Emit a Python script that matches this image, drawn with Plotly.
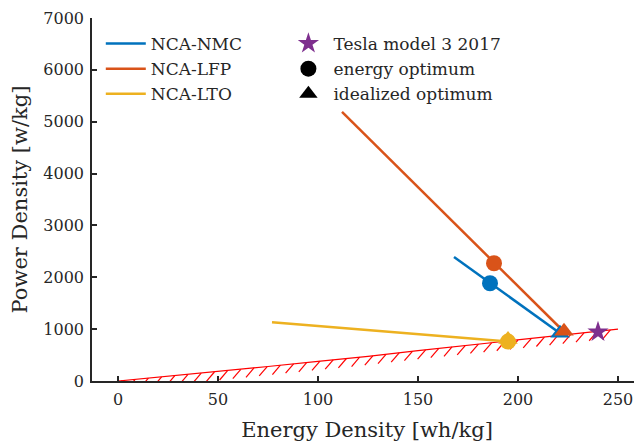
import plotly.graph_objects as go
import numpy as np

# ---- data ----
series_names = ["NCA-NMC", "NCA-LFP", "NCA-LTO"]
series_colors = ["#0072BD", "#D95319", "#EDB120"]
line_x = [[168, 221], [112, 223], [77, 195]]
line_y = [[2390, 920], [5190, 950], [1135, 760]]
energy_opt_x = [186, 188, 195]
energy_opt_y = [1885, 2270, 760]
ideal_opt_x = [221, 223, 195]
ideal_opt_y = [920, 960, 800]
tesla_x = [240]
tesla_y = [945]
limit_x = [0, 25, 50, 75, 100, 125, 150, 175, 200, 225, 250]
limit_y = [0, 90, 180, 280, 380, 475, 585, 690, 790, 895, 1000]

FONT = "DejaVu Serif"
TXT = "#262626"
fig = go.Figure()

# limit curve with hatching
fig.add_trace(go.Scatter(x=limit_x, y=limit_y, mode="lines",
                         line=dict(color="red", width=1.2), showlegend=False, hoverinfo="skip"))
hx = np.arange(2, 250, 6.6)
hy = np.interp(hx, limit_x, limit_y)
seg_x, seg_y = [], []
for a, b in zip(hx, hy):
    seg_x += [a, a - 4, None]
    seg_y += [b, b - 180, None]
fig.add_trace(go.Scatter(x=seg_x, y=seg_y, mode="lines",
                         line=dict(color="red", width=1.2), showlegend=False, hoverinfo="skip"))

for i, name in enumerate(series_names):
    fig.add_trace(go.Scatter(x=line_x[i], y=line_y[i], mode="lines", name=name,
                             line=dict(color=series_colors[i], width=2.5), legend="legend"))
for i in range(3):
    fig.add_trace(go.Scatter(x=[ideal_opt_x[i]], y=[ideal_opt_y[i]], mode="markers",
                             marker=dict(symbol="triangle-up", size=17, color=series_colors[i]),
                             showlegend=False))
    fig.add_trace(go.Scatter(x=[energy_opt_x[i]], y=[energy_opt_y[i]], mode="markers",
                             marker=dict(symbol="circle", size=16, color=series_colors[i]),
                             showlegend=False))
fig.add_trace(go.Scatter(x=tesla_x, y=tesla_y, mode="markers", name="Tesla model 3 2017",
                         marker=dict(symbol="star", size=16, color="#7E2F8E"), legend="legend2"))
fig.add_trace(go.Scatter(x=[None], y=[None], mode="markers", name="energy optimum",
                         marker=dict(symbol="circle", size=16, color="black"), legend="legend2"))
fig.add_trace(go.Scatter(x=[None], y=[None], mode="markers", name="idealized optimum",
                         marker=dict(symbol="triangle-up", size=16, color="black"), legend="legend2"))

axis_common = dict(showline=True, linecolor=TXT, linewidth=1.5, ticks="inside",
                   ticklen=5, tickwidth=1.5, tickcolor=TXT, showgrid=False, zeroline=False,
                   automargin=False, tickfont=dict(family=FONT, size=16, color=TXT))
fig.update_xaxes(range=[-13, 262], tickvals=[0, 50, 100, 150, 200, 250], ticklabelstandoff=3,
                 title=dict(text="Energy Density [wh/kg]", font=dict(family=FONT, size=21, color=TXT),
                            standoff=14), **axis_common)
fig.update_yaxes(range=[0, 7000], tickvals=list(range(0, 7001, 1000)), ticklabelstandoff=3,
                 title=dict(text="Power Density [w/kg]", font=dict(family=FONT, size=21, color=TXT),
                            standoff=10), **axis_common)

legend_common = dict(font=dict(family=FONT, size=17, color=TXT), bgcolor="rgba(0,0,0,0)",
                     xanchor="left", yanchor="top", tracegroupgap=0, itemwidth=40)
# page body adds an 8px offset; figure sized so the plot lands where the reference has it
fig.update_layout(
    width=634, height=434,
    margin=dict(l=84, r=0, t=10, b=61),
    plot_bgcolor="white", paper_bgcolor="white",
    legend=dict(x=0.016, y=0.978, **legend_common),
    legend2=dict(x=0.348, y=0.978, **legend_common),
)
fig.write_html("out.html")
